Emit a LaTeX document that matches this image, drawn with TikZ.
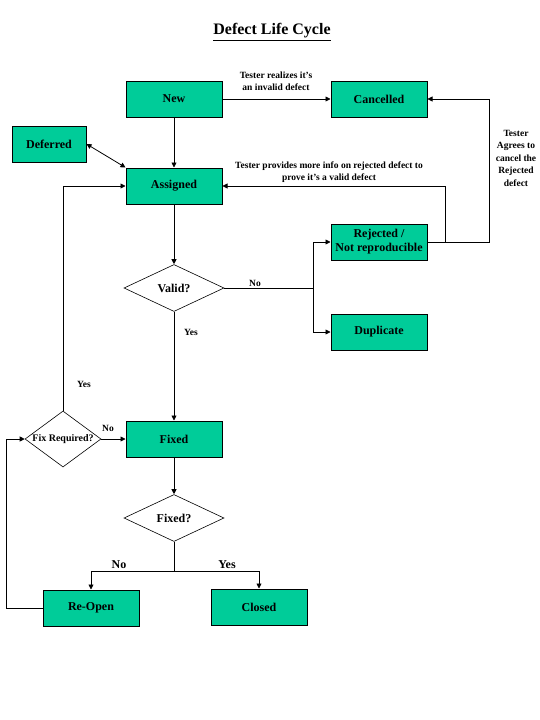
\documentclass[tikz,border=0pt]{standalone}
\usepackage{fontspec}
\setmainfont{Liberation Serif}
\usetikzlibrary{arrows.meta,shapes.geometric,positioning}
\definecolor{stategreen}{HTML}{00CC99}

\begin{document}
\begin{tikzpicture}[x=1pt, y=-1pt, >={Triangle[length=5pt,width=5pt]},
  state/.style={rectangle, draw, line width=1pt, fill=stategreen, minimum width=96pt, minimum height=36pt, inner sep=0pt, align=center, font=\fontsize{12}{14}\selectfont\bfseries},
  decision/.style={diamond, draw, line width=0.6pt, fill=white, aspect=2, inner sep=0pt, minimum width=100pt, minimum height=47pt, font=\fontsize{12}{14}\selectfont\bfseries},
  flow/.style={draw, line width=0.8pt, ->},
  lbl/.style={font=\fontsize{9.5}{12.5}\selectfont\bfseries, align=center, inner sep=0pt},
  biglbl/.style={font=\fontsize{12}{14}\selectfont\bfseries, inner sep=0pt}]
  \useasboundingbox (0,0) rectangle (540,720);
  % title
  \node[font=\fontsize{16}{18}\selectfont\bfseries] (title) at (272,32) {\underline{Defect Life Cycle}};
  % states
  \node[state] (new) at (174,99) {New};
  \node[state] (cancelled) at (379,99) {Cancelled};
  \node[state, minimum width=74pt] (deferred) at (49,144) {Deferred};
  \node[state] (assigned) at (174,186) {Assigned};
  \node[state] (rejected) at (379,242) {Rejected /\\Not reproducible};
  \node[decision] (valid) at (174,288) {Valid?};
  \node[state] (duplicate) at (379,332) {Duplicate};
  \node[decision, aspect=1.4, minimum width=76pt, minimum height=56pt, font=\fontsize{10}{12}\selectfont\bfseries] (fixreq) at (63,439) {Fix Required?};
  \node[state] (fixed) at (174,439) {Fixed};
  \node[decision] (fixedq) at (174,518) {Fixed?};
  \node[state] (reopen) at (91,608) {Re-Open};
  \node[state] (closed) at (259,607) {Closed};
  % branch points
  \coordinate (vsplit) at (313,288);
  \coordinate (fsplit) at (174,571);
  % connectors
  \draw[flow] (new) -- (cancelled);
  \draw[flow] (new) -- (assigned);
  \draw[line width=0.8pt, <->] (deferred.east) -- (assigned.north west);
  \draw[flow] (rejected.east) -- ++(18,0) |- (assigned.east);
  \draw[flow] (rejected.east) -- ++(62,0) |- (cancelled.east);
  \draw[flow] (assigned) -- (valid);
  \draw[line width=0.8pt] (valid.east) -- (vsplit);
  \draw[flow] (vsplit) |- (rejected.west);
  \draw[flow] (vsplit) |- (duplicate.west);
  \draw[flow] (valid) -- (fixed);
  \draw[flow] (fixreq.north) |- (assigned.west);
  \draw[flow] (fixreq) -- (fixed);
  \draw[flow] (fixed) -- (fixedq);
  \draw[line width=0.8pt] (fixedq.south) -- (fsplit);
  \draw[flow] (fsplit) -| (reopen.north);
  \draw[flow] (fsplit) -| (closed.north);
  \draw[flow] (reopen.west) -- ++(-36,0) |- (fixreq.west);
  % labels
  \node[lbl] (lnew) at (276,81) {Tester realizes it's\\an invalid defect};
  \node[lbl] (lrej) at (329,172) {Tester provides more info on rejected defect to\\prove it's a valid defect};
  \node[lbl] (lagree) at (516,158) {Tester\\Agrees to\\cancel the\\Rejected\\defect};
  \node[lbl] (lvno) at (255,283) {No};
  \node[lbl] (lvyes) at (191,332) {Yes};
  \node[lbl] (lfyes) at (84,384) {Yes};
  \node[lbl] (lfno) at (108,428) {No};
  \node[biglbl] (lno) at (119,565) {No};
  \node[biglbl] (lyes) at (227,565) {Yes};
\end{tikzpicture}
\end{document}
